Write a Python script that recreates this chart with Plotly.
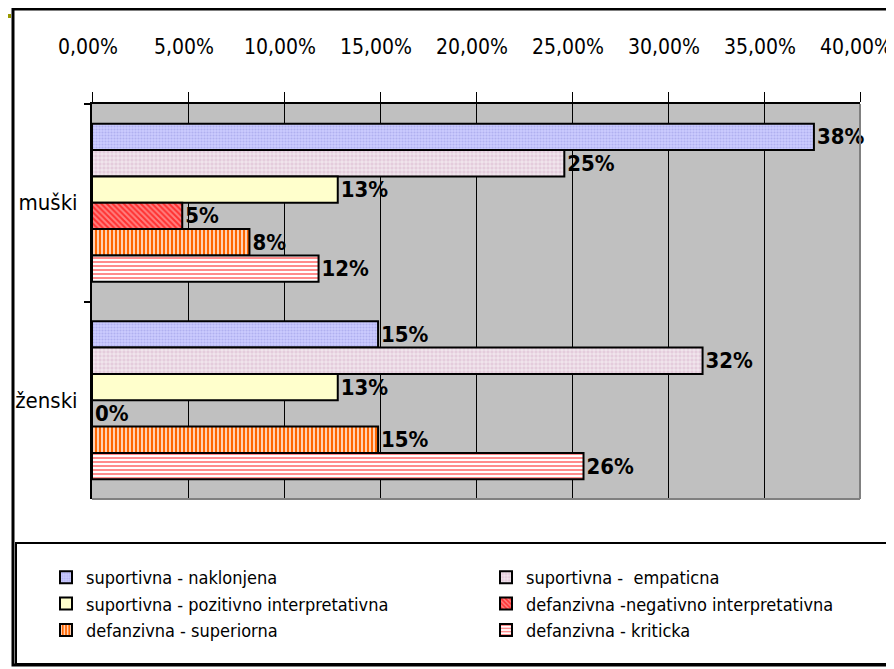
import plotly.graph_objects as go

# --- DADOS ---
kategorije = ['muški', 'ženski']
serije = [
    'suportivna - naklonjena',
    'suportivna -  empaticna',
    'suportivna - pozitivno interpretativna',
    'defanzivna -negativno interpretativna',
    'defanzivna - superiorna',
    'defanzivna - kriticka',
]
naklonjena = [0.376, 0.149]
empaticna = [0.246, 0.318]
pozitivno = [0.128, 0.128]
negativno = [0.047, 0.0]
superiorna = [0.082, 0.149]
kriticka = [0.118, 0.256]
vrijednosti = [naklonjena, empaticna, pozitivno, negativno, superiorna, kriticka]

# --- STIL ---
FONT = 'DejaVu Sans Condensed, Liberation Sans Narrow, Arial Narrow, Liberation Sans, sans-serif'
OFF = 8  # margina stranice (body) u pregledniku
W, H = 894 - OFF, 669 - OFF
# rubovi podrucja crtanja u koordinatama ekrana
SL, SR, ST, SB = 92, 860, 104, 499

uzorci = [
    dict(bgcolor='#CCCCFF', fgcolor='#B0B0F0', shape='.', size=3, solidity=0.4),
    dict(bgcolor='#E4CCDC', fgcolor='#FFFFFF', shape='+', size=4, solidity=0.25),
    dict(bgcolor='#FFFFCC', fgcolor='#FFFFCC', shape='', size=4, solidity=0.3),
    dict(bgcolor='#FF8080', fgcolor='#FF3030', shape='\\', size=4, solidity=0.5),
    dict(bgcolor='#FF6600', fgcolor='#FFFFFF', shape='|', size=4, solidity=0.35),
    dict(bgcolor='#FFFFFF', fgcolor='#FF8C8C', shape='-', size=4, solidity=0.5),
]
# lijevi i desni stupac legende
legende = ['legend', 'legend2', 'legend', 'legend2', 'legend', 'legend2']


def px_x(p):
    return (p - SL) / (SR - SL)


def px_y(p):
    return (SB - p) / (SB - ST)


fig = go.Figure()
for ime, vals, uz, leg in zip(serije, vrijednosti, uzorci, legende):
    fig.add_trace(go.Bar(
        name=ime, y=kategorije, x=vals, orientation='h', legend=leg,
        marker=dict(color=uz['bgcolor'], line=dict(color='black', width=2),
                    pattern=dict(shape=uz['shape'], fgcolor=uz['fgcolor'],
                                 bgcolor=uz['bgcolor'], size=uz['size'],
                                 solidity=uz['solidity'], fillmode='replace')),
        texttemplate='%{x:.0%}', textposition='outside', constraintext='none',
        textfont=dict(family=FONT, size=22, color='black', weight='bold'),
        cliponaxis=False,
    ))

# okvir, legenda okvir, ukras
fig.add_shape(type='rect', xref='paper', yref='paper',
              x0=px_x(13), x1=px_x(897), y0=px_y(665), y1=px_y(9),
              line=dict(color='black', width=3), layer='below')
fig.add_shape(type='rect', xref='paper', yref='paper',
              x0=px_x(16), x1=px_x(897), y0=px_y(664), y1=px_y(543),
              line=dict(color='black', width=2), layer='below')
fig.add_shape(type='line', xref='paper', yref='paper',
              x0=px_x(0), x1=px_x(11), y0=px_y(16), y1=px_y(16),
              line=dict(color='#999900', width=4))
fig.add_shape(type='line', xref='paper', yref='paper',
              x0=0, x1=1, y0=0, y1=0, line=dict(color='#808080', width=2))
fig.add_shape(type='line', xref='paper', yref='paper',
              x0=1, x1=1, y0=0, y1=1, line=dict(color='#808080', width=2))

leg_stil = dict(orientation='v', yanchor='top', xanchor='left', traceorder='normal',
                font=dict(family=FONT, size=18, color='black'),
                bgcolor='rgba(0,0,0,0)', itemwidth=30, tracegroupgap=0)

fig.update_layout(
    width=W, height=H,
    margin=dict(l=SL - OFF, r=W - (SR - OFF), t=ST - OFF, b=H - (SB - OFF), autoexpand=False),
    paper_bgcolor='white', plot_bgcolor='#C0C0C0',
    barmode='group', bargap=0.2, bargroupgap=0,
    separators=',.',
    font=dict(family=FONT, color='black'),
    showlegend=True,
    legend=dict(x=px_x(46), y=px_y(559), **leg_stil),
    legend2=dict(x=px_x(486), y=px_y(559), **leg_stil),
    xaxis=dict(range=[0, 0.4], dtick=0.05, tickformat='.2%', side='top',
               showgrid=True, gridcolor='black', gridwidth=1,
               ticks='outside', ticklen=10, tickwidth=1, tickcolor='black',
               showline=True, linecolor='black', linewidth=2,
               ticklabelstandoff=30, ticklabelshift=-4, zeroline=False,
               ticklabeloverflow='allow',
               tickfont=dict(family=FONT, size=21, color='black')),
    yaxis=dict(autorange='reversed', tickson='boundaries',
               ticks='outside', ticklen=6, tickwidth=2, tickcolor='black',
               showline=True, linecolor='black', linewidth=2, showgrid=False,
               ticklabelstandoff=8,
               tickfont=dict(family=FONT, size=22, color='black')),
)

fig.write_html('out.html')
